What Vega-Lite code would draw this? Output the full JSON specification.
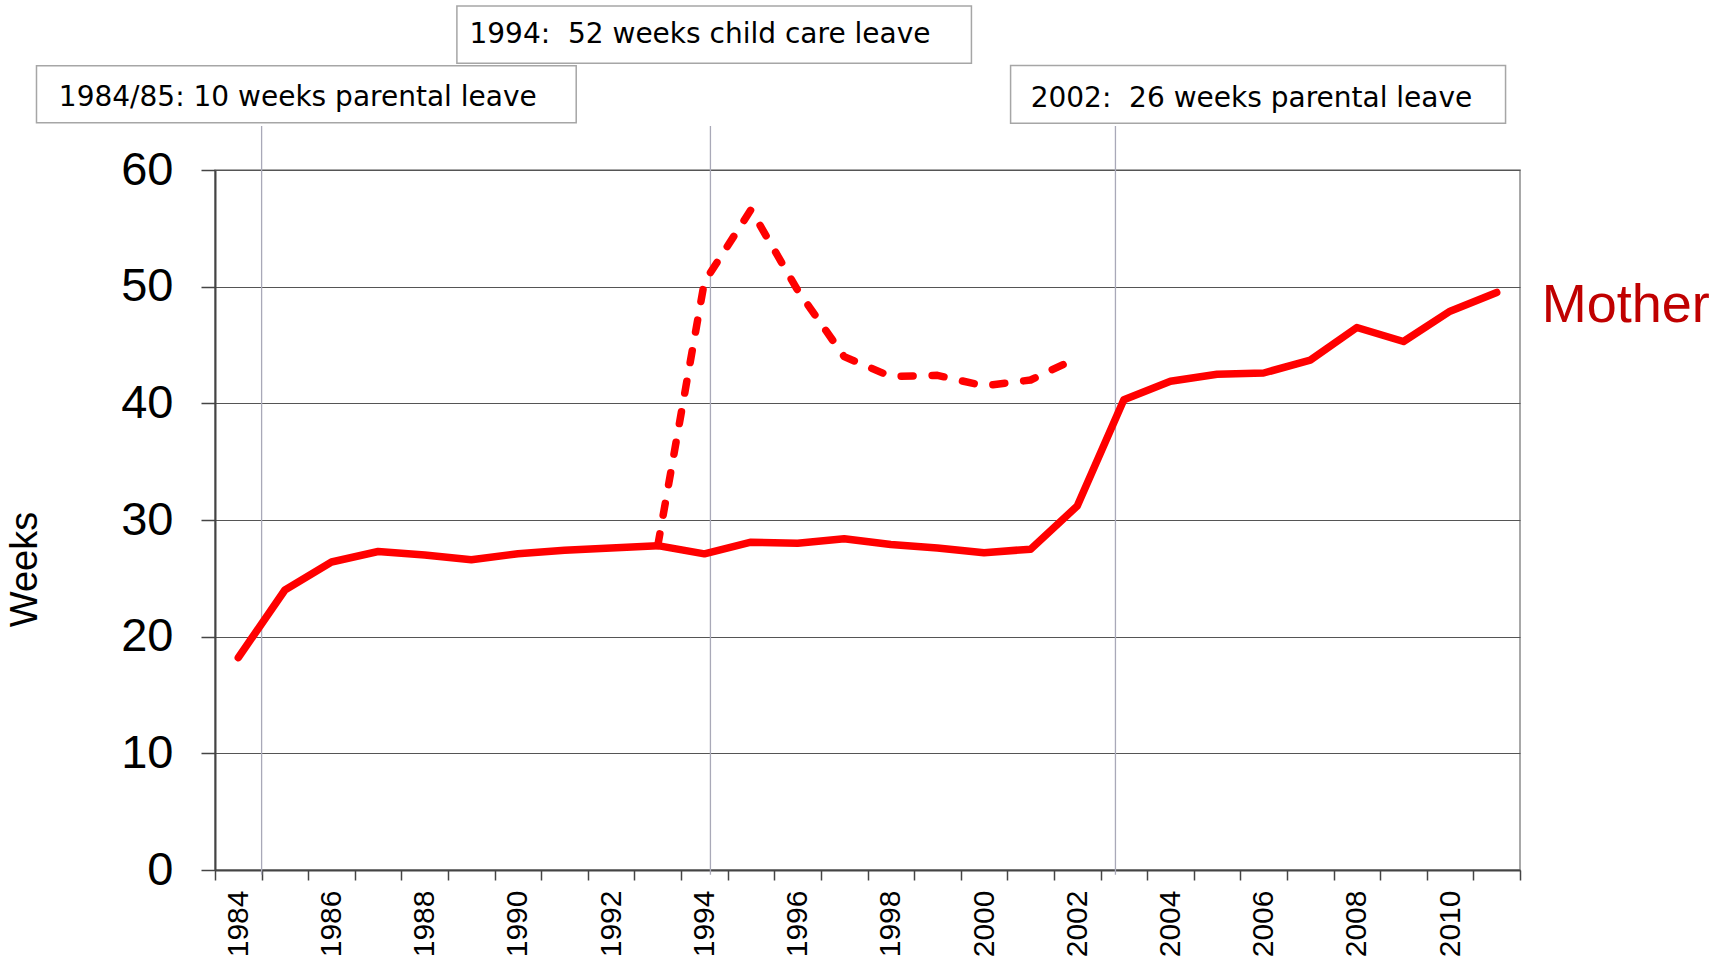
{
  "$schema": "https://vega.github.io/schema/vega-lite/v6.json",
  "autosize": {"type": "none"},
  "padding": {"left": 215, "top": 170, "right": 199, "bottom": 94},
  "width": 1305,
  "height": 700,
  "background": "white",
  "config": {
    "view": {"stroke": "#8c8c8c", "strokeWidth": 1.5}
  },
  "datasets": {
    "mother": [
      {"series": "Mother", "year": 1984, "weeks": 18.2},
      {"series": "Mother", "year": 1985, "weeks": 24.0},
      {"series": "Mother", "year": 1986, "weeks": 26.4},
      {"series": "Mother", "year": 1987, "weeks": 27.3},
      {"series": "Mother", "year": 1988, "weeks": 27.0},
      {"series": "Mother", "year": 1989, "weeks": 26.6},
      {"series": "Mother", "year": 1990, "weeks": 27.1},
      {"series": "Mother", "year": 1991, "weeks": 27.4},
      {"series": "Mother", "year": 1992, "weeks": 27.6},
      {"series": "Mother", "year": 1993, "weeks": 27.8},
      {"series": "Mother", "year": 1994, "weeks": 27.1},
      {"series": "Mother", "year": 1995, "weeks": 28.1},
      {"series": "Mother", "year": 1996, "weeks": 28.0},
      {"series": "Mother", "year": 1997, "weeks": 28.4},
      {"series": "Mother", "year": 1998, "weeks": 27.9},
      {"series": "Mother", "year": 1999, "weeks": 27.6},
      {"series": "Mother", "year": 2000, "weeks": 27.2},
      {"series": "Mother", "year": 2001, "weeks": 27.5},
      {"series": "Mother", "year": 2002, "weeks": 31.2},
      {"series": "Mother", "year": 2003, "weeks": 40.3},
      {"series": "Mother", "year": 2004, "weeks": 41.9},
      {"series": "Mother", "year": 2005, "weeks": 42.5},
      {"series": "Mother", "year": 2006, "weeks": 42.6},
      {"series": "Mother", "year": 2007, "weeks": 43.7},
      {"series": "Mother", "year": 2008, "weeks": 46.5},
      {"series": "Mother", "year": 2009, "weeks": 45.3},
      {"series": "Mother", "year": 2010, "weeks": 47.9},
      {"series": "Mother", "year": 2011, "weeks": 49.5},
      {"series": "Mother incl. child care leave", "year": 1993, "weeks": 27.8},
      {"series": "Mother incl. child care leave", "year": 1994, "weeks": 50.4},
      {"series": "Mother incl. child care leave", "year": 1995, "weeks": 56.6},
      {"series": "Mother incl. child care leave", "year": 1996, "weeks": 49.7},
      {"series": "Mother incl. child care leave", "year": 1997, "weeks": 44.0},
      {"series": "Mother incl. child care leave", "year": 1998, "weeks": 42.3},
      {"series": "Mother incl. child care leave", "year": 1999, "weeks": 42.4},
      {"series": "Mother incl. child care leave", "year": 2000, "weeks": 41.5},
      {"series": "Mother incl. child care leave", "year": 2001, "weeks": 42.0},
      {"series": "Mother incl. child care leave", "year": 2002, "weeks": 43.9}
    ],
    "notes": [
      {"label": "1984/85: 10 weeks parental leave", "lineYear": 1984.5, "lineTop": 63.78, "boxX1": 1979.67, "boxX2": 1991.25, "boxTop": 68.94, "boxBottom": 64.05, "textX": 1980.15, "textY": 65.49},
      {"label": "1994:\u00a0 52 weeks child care leave", "lineYear": 1994.13, "lineTop": 63.78, "boxX1": 1988.69, "boxX2": 1999.73, "boxTop": 74.06, "boxBottom": 69.15, "textX": 1988.96, "textY": 70.86},
      {"label": "2002:\u00a0 26 weeks parental leave", "lineYear": 2002.82, "lineTop": 63.78, "boxX1": 2000.57, "boxX2": 2011.19, "boxTop": 68.95, "boxBottom": 64.01, "textX": 2001.0, "textY": 65.38}
    ]
  },
  "layer": [
    {
      "data": {"name": "notes"},
      "mark": {"type": "rule", "color": "#A9A9B8", "strokeWidth": 1.3},
      "encoding": {
        "x": {"field": "lineYear", "type": "quantitative", "title": null, "scale": {"domain": [1983.5, 2011.5], "nice": false, "zero": false}},
        "y": {"field": "lineTop", "type": "quantitative", "title": "Weeks", "scale": {"domain": [0, 60], "nice": false}},
        "y2": {"datum": -0.4}
      }
    },
    {
      "data": {"name": "mother"},
      "transform": [{"filter": "datum.series == 'Mother'"}],
      "mark": {"type": "line", "color": "#FF0000", "strokeWidth": 7.5, "strokeCap": "round", "strokeJoin": "round"},
      "encoding": {
        "x": {
          "field": "year", "type": "quantitative", "title": null,
          "scale": {"domain": [1983.5, 2011.5], "nice": false, "zero": false},
          "axis": {
            "title": null,
            "values": [1983.5, 1984.5, 1985.5, 1986.5, 1987.5, 1988.5, 1989.5, 1990.5, 1991.5, 1992.5, 1993.5, 1994.5, 1995.5, 1996.5, 1997.5, 1998.5, 1999.5, 2000.5, 2001.5, 2002.5, 2003.5, 2004.5, 2005.5, 2006.5, 2007.5, 2008.5, 2009.5, 2010.5, 2011.5],
            "labelExpr": "((datum.value + 0.5) % 2 == 0 && datum.value < 2011) ? '' + (datum.value + 0.5) : ''",
            "labelOffset": 23.3,
            "labelAngle": -90,
            "labelFont": "Liberation Sans",
            "labelFontSize": 30,
            "labelColor": "#000000",
            "labelPadding": 10,
            "labelOverlap": false,
            "labelBound": false,
            "labelFlush": false,
            "grid": false,
            "domainColor": "#444444",
            "domainWidth": 2,
            "tickColor": "#444444",
            "tickWidth": 1.5,
            "tickSize": 10
          }
        },
        "y": {
          "field": "weeks", "type": "quantitative", "title": "Weeks",
          "scale": {"domain": [0, 60], "nice": false},
          "axis": {
            "title": "Weeks",
            "titleFont": "Liberation Sans",
            "titleFontSize": 38,
            "titleFontWeight": "normal",
            "titleColor": "#000000",
            "titlePadding": 76,
            "titleY": 399,
            "values": [0, 10, 20, 30, 40, 50, 60],
            "labelFont": "Liberation Sans",
            "labelFontSize": 47,
            "labelColor": "#000000",
            "labelPadding": 28,
            "labelFlush": false,
            "grid": true,
            "gridColor": "#555555",
            "gridWidth": 1.2,
            "domainColor": "#444444",
            "domainWidth": 2,
            "tickColor": "#444444",
            "tickWidth": 1.5,
            "tickSize": 14
          }
        }
      }
    },
    {
      "data": {"name": "mother"},
      "transform": [{"filter": "datum.series != 'Mother'"}],
      "mark": {"type": "line", "color": "#FF0000", "strokeWidth": 7.5, "strokeCap": "round", "strokeJoin": "round", "strokeDash": [12, 19]},
      "encoding": {
        "x": {"field": "year", "type": "quantitative", "title": null, "scale": {"domain": [1983.5, 2011.5], "nice": false, "zero": false}},
        "y": {"field": "weeks", "type": "quantitative", "title": "Weeks", "scale": {"domain": [0, 60], "nice": false}}
      }
    },
    {
      "data": {"name": "notes"},
      "mark": {"type": "rect", "fill": "white", "stroke": "#A6A6A6", "strokeWidth": 1.5},
      "encoding": {
        "x": {"field": "boxX1", "type": "quantitative", "title": null, "scale": {"domain": [1983.5, 2011.5], "nice": false, "zero": false}},
        "x2": {"field": "boxX2"},
        "y": {"field": "boxTop", "type": "quantitative", "title": "Weeks", "scale": {"domain": [0, 60], "nice": false}},
        "y2": {"field": "boxBottom"}
      }
    },
    {
      "data": {"name": "notes"},
      "mark": {"type": "text", "align": "left", "baseline": "alphabetic", "font": "DejaVu Sans", "fontSize": 28, "color": "#000000"},
      "encoding": {
        "x": {"field": "textX", "type": "quantitative", "title": null, "scale": {"domain": [1983.5, 2011.5], "nice": false, "zero": false}},
        "y": {"field": "textY", "type": "quantitative", "title": "Weeks", "scale": {"domain": [0, 60], "nice": false}},
        "text": {"field": "label"}
      }
    },
    {
      "data": {"name": "mother"},
      "transform": [{"filter": "datum.series == 'Mother' && datum.year == 2011"}],
      "mark": {"type": "text", "align": "left", "baseline": "alphabetic", "dx": 45, "dy": 29, "font": "Liberation Sans", "fontSize": 54, "color": "#C00000"},
      "encoding": {
        "x": {"field": "year", "type": "quantitative", "title": null, "scale": {"domain": [1983.5, 2011.5], "nice": false, "zero": false}},
        "y": {"field": "weeks", "type": "quantitative", "title": "Weeks", "scale": {"domain": [0, 60], "nice": false}},
        "text": {"field": "series"}
      }
    }
  ]
}
